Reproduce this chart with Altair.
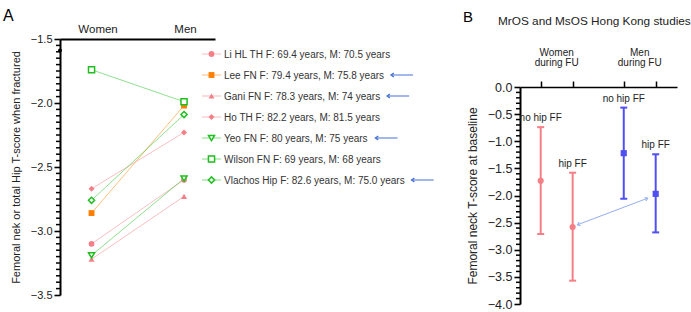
import math
import altair as alt
import numpy as np
import pandas as pd

# ---------------- data: panel A ----------------
studies = ["Li HL TH", "Lee FN", "Gani FN", "Ho TH", "Yeo FN", "Wilson FN", "Vlachos Hip"]
age_women = ["69.4", "79.4", "78.3", "82.2", "80", "69", "82.6"]
age_men = ["70.5", "75.8", "74", "81.5", "75", "68", "75.0"]
tscore_women = [-3.10, -2.86, -3.22, -2.67, -3.19, -1.74, -2.76]
tscore_men = [-2.60, -2.02, -2.73, -2.23, -2.59, -1.99, -2.09]
highlighted = ["Lee FN", "Gani FN", "Yeo FN", "Vlachos Hip"]
open_markers = ["Yeo FN", "Wilson FN", "Vlachos Hip"]
stray_point = [-1.59]
sexes_a = ["Women", "Men"]
title_a = "Femoral nek or total Hip T-score when fractured"

# ---------------- data: panel B ----------------
groups_b = ["no hip FF", "hip FF", "no hip FF", "hip FF"]
sex_b = ["Women", "Women", "Men", "Men"]
mean_b = [-1.73, -2.58, -1.22, -1.97]
low_b = [-2.71, -3.57, -2.06, -2.68]
high_b = [-0.74, -1.58, -0.38, -1.24]
headers_b = ["Women\nduring FU", "Men\nduring FU"]
title_b = "MrOS and MsOS Hong Kong studies"
ytitle_b = "Femoral neck T-score at baseline"
panel_letters = ["A", "B"]

# ---------------- styles / layout ----------------
FONT = "Liberation Sans"
INK = "#222222"
TICK = "black"
PINK = "#f47f86"
ORANGE = "#ff7f00"
GREEN = "#1fbf1f"
BLUE_B = "#5050f2"
ARROW = "#4a74d8"
LINK = "#93aef0"
series_colors = [PINK, ORANGE, PINK, PINK, GREEN, GREEN, GREEN]
series_shapes = ["circle", "square", "triangle-up", "diamond", "triangle-down", "square", "diamond"]
series_sizes = [34, 38, 42, 30, 42, 50, 32]

A_X_DOMAIN = [0.659, 2.335]
A_X_RANGE = [60, 215]
A_Y_DOMAIN = [-3.5, -1.5]
A_Y_RANGE = [295, 39]
B_X_DOMAIN = [0.352, 5.267]
B_X_RANGE = [520, 677]
B_Y_DOMAIN = [-4.0, 0.0]
B_Y_RANGE = [304, 87]
MINOR_LEN = 4

CHEVRON_UP = "M-0.7,1L0,0L0.7,1"
CHEVRON_LEFT = "M1,-0.7L0,0L1,0.7"


def tick_values(lo, hi, step):
    n = int(round((hi - lo) / step))
    return [round(lo + i * step, 2) + 0.0 for i in range(n + 1)]


def split_ticks(lo, hi, step):
    allv = tick_values(lo, hi, step)
    major = [v for v in allv if abs(v * 2 - round(v * 2)) < 1e-6]
    minor = [v for v in allv if v not in major]
    return major, minor


def major_axis(values, offset, title, label_size, title_size, pad):
    return alt.Axis(
        orient="left", offset=offset, values=values, format=".1f",
        labelOverlap=False, labelFlush=False, tickSize=6,
        tickWidth=1.6, tickColor=TICK, domainColor="black", domainWidth=2,
        labelFont=FONT, labelFontSize=label_size, labelColor=INK, labelPadding=2,
        title=title, titleFont=FONT, titleFontSize=title_size, titleFontWeight="normal",
        titleColor=INK, titlePadding=pad, grid=False,
    )


# ---------------- panel A ----------------
rows = []
for i, s in enumerate(studies):
    for j, v in enumerate([tscore_women[i], tscore_men[i]]):
        rows.append({"study": s, "sex": sexes_a[j], "slot": j + 1, "t": v,
                     "open": s in open_markers})
df_a = pd.DataFrame(rows)

a_major, a_minor = split_ticks(-3.5, -1.5, 0.05)
ya_scale = alt.Scale(domain=A_Y_DOMAIN, range=A_Y_RANGE, zero=False, nice=False)
xa = alt.X(
    "slot:Q",
    scale=alt.Scale(domain=A_X_DOMAIN, range=A_X_RANGE, zero=False, nice=False),
    axis=alt.Axis(
        orient="top", values=[1, 2],
        labelExpr=f"datum.value == 1 ? '{sexes_a[0]}' : '{sexes_a[1]}'",
        ticks=False, tickSize=0, labelPadding=5, offset=-39,
        domainWidth=2, domainColor="black", labelFont=FONT, labelFontSize=11.5,
        labelColor=INK, title=None, grid=False,
        labelOffset={"condition": {"test": "datum.value == 1", "value": 6}, "value": 1},
    ),
)
ya = alt.Y("t:Q", scale=ya_scale, axis=major_axis(a_major, -A_X_RANGE[0], title_a, 11, 11, 9))
color_a = alt.Color("study:N", scale=alt.Scale(domain=studies, range=series_colors), legend=None)
shape_a = alt.Shape("study:N", scale=alt.Scale(domain=studies, range=series_shapes), legend=None)
size_a = alt.Size("study:N", scale=alt.Scale(domain=studies, range=series_sizes), legend=None)

lines_a = alt.Chart(df_a).mark_line(strokeWidth=1, opacity=0.5).encode(x=xa, y=ya, color=color_a)
filled_a = alt.Chart(df_a).transform_filter("!datum.open").mark_point(
    filled=True, opacity=1).encode(x=xa, y=ya, color=color_a, shape=shape_a, size=size_a)
open_a = alt.Chart(df_a).transform_filter("datum.open").mark_point(
    filled=False, fill="white", strokeWidth=1.5, opacity=1).encode(
    x=xa, y=ya, color=color_a, shape=shape_a, size=size_a)
stray_a = alt.Chart(pd.DataFrame({"slot": [A_X_DOMAIN[0]], "t": stray_point})).mark_circle(
    size=16, color="black", opacity=1).encode(x=xa, y=ya)
minor_a = alt.Chart(pd.DataFrame({"t": a_minor})).mark_rule(strokeWidth=1.5, color=TICK).encode(
    x=alt.value(A_X_RANGE[0] - MINOR_LEN), x2=alt.value(A_X_RANGE[0]), y=ya)
panel_a = alt.layer(lines_a, filled_a, open_a, stray_a, minor_a)

# ---------------- legend of panel A ----------------
AW = {" ": 278, ",": 278, ".": 278, ":": 278, "F": 611, "N": 722, "M": 833, "L": 556,
      "e": 556, "y": 500, "a": 556, "r": 333, "s": 500, "G": 778, "n": 556, "i": 222,
      "Y": 667, "o": 556, "V": 667, "l": 222, "c": 500, "h": 556, "H": 722, "p": 556,
      "T": 611, "W": 944}


def text_width(s, size):
    return sum(AW.get(c, 556) for c in s) * size / 1000.0


LEG_FS = 10
LEG_TEXT_X = 224
labels = [f"{s} F: {f} years, M: {m} years" for s, f, m in zip(studies, age_women, age_men)]
df_l = pd.DataFrame({"study": studies, "label": labels, "open": [s in open_markers for s in studies]})
arr = []
for s, lab in zip(studies, labels):
    if s in highlighted:
        x0 = LEG_TEXT_X + text_width(lab, LEG_FS) + 7
        arr.append({"study": s, "ax": x0, "ax2": x0 + 22})
df_arr = pd.DataFrame(arr)

y_l = alt.Y("study:N", scale=alt.Scale(type="point", domain=studies, range=[54, 180], padding=0), axis=None)
px_scale = alt.Scale(domain=[0, 691], range=[0, 691], zero=False, nice=False)

stub_l = alt.Chart(df_l).mark_rule(strokeWidth=1, opacity=0.55).encode(
    x=alt.value(202), x2=alt.value(221), y=y_l, color=color_a)
filled_l = alt.Chart(df_l).transform_filter("!datum.open").mark_point(filled=True, opacity=1).encode(
    x=alt.value(211.5), y=y_l, color=color_a, shape=shape_a, size=size_a)
open_l = alt.Chart(df_l).transform_filter("datum.open").mark_point(
    filled=False, fill="white", strokeWidth=1.5, opacity=1).encode(
    x=alt.value(211.5), y=y_l, color=color_a, shape=shape_a, size=size_a)
text_l = alt.Chart(df_l).mark_text(align="left", baseline="middle", dy=1, font=FONT,
                                   fontSize=LEG_FS, color="#333333").encode(
    x=alt.value(LEG_TEXT_X), y=y_l, text="label:N")
arrow_l = alt.Chart(df_arr).mark_rule(strokeWidth=1.2, color=ARROW, opacity=0.85).encode(
    x=alt.X("ax:Q", scale=px_scale, axis=None), x2="ax2:Q", y=y_l)
head_l = alt.Chart(df_arr).mark_point(shape=CHEVRON_LEFT, filled=False, strokeWidth=1.4,
                                      size=30, color=ARROW, opacity=1).encode(
    x=alt.X("ax:Q", scale=px_scale, axis=None), y=y_l)
legend_a = alt.layer(stub_l, filled_l, open_l, text_l, arrow_l, head_l)

# ---------------- panel B ----------------
df_b = pd.DataFrame({"group": groups_b, "sex": sex_b, "mean": mean_b, "lo": low_b, "hi": high_b})
df_b["pos"] = [1 + i + 0.6 * (s == "Men") for i, s in enumerate(sex_b)]
df_h = df_b.groupby("sex", sort=False)["pos"].mean().reset_index()
df_h["header"] = headers_b

b_major, b_minor = split_ticks(-4.0, 0.0, 0.1)
xb_scale = alt.Scale(domain=B_X_DOMAIN, range=B_X_RANGE, zero=False, nice=False)
xb_axis = alt.Axis(orient="top", values=df_b["pos"].tolist(), labels=False, tickSize=6,
                   tickWidth=1.5, tickColor="black", domainWidth=1.6, domainColor="black",
                   offset=-B_Y_RANGE[1], title=None, grid=False)
yb_scale = alt.Scale(domain=B_Y_DOMAIN, range=B_Y_RANGE, zero=False, nice=False)
yb_axis = major_axis(b_major, -B_X_RANGE[0], ytitle_b, 12.5, 12, 8)


def xb(field):
    return alt.X(field, scale=xb_scale, axis=xb_axis)


def yb(field):
    return alt.Y(field, scale=yb_scale, axis=yb_axis)


color_b = alt.Color("sex:N", scale=alt.Scale(domain=["Women", "Men"], range=[PINK, BLUE_B]), legend=None)
shape_b = alt.Shape("sex:N", scale=alt.Scale(domain=["Women", "Men"], range=["circle", "square"]), legend=None)

bars_b = alt.Chart(df_b).mark_rule(strokeWidth=2).encode(x=xb("pos:Q"), y=yb("lo:Q"), y2="hi:Q", color=color_b)
caps_b = alt.Chart(df_b).transform_fold(["lo", "hi"], as_=["end", "v"]).mark_tick(
    orient="horizontal", size=7, thickness=2, opacity=1).encode(x=xb("pos:Q"), y=yb("v:Q"), color=color_b)
pts_b = alt.Chart(df_b).mark_point(filled=True, size=38, opacity=1).encode(
    x=xb("pos:Q"), y=yb("mean:Q"), color=color_b, shape=shape_b)
lab_b = alt.Chart(df_b).mark_text(font=FONT, fontSize=10, color=INK, baseline="middle", dy=-9).encode(
    x=xb("pos:Q"), y=yb("hi:Q"), text="group:N")
head_b = alt.Chart(df_h).mark_text(font=FONT, fontSize=10, color=INK, baseline="top", lineBreak="\n",
                                   lineHeight=10).encode(
    x=xb("pos:Q"), y=alt.value(48), text="header:N")

x1 = df_b["pos"][1] + 0.15
y1 = mean_b[1] + 0.04
x2 = df_b["pos"][3] - 0.25
y2 = mean_b[3] - 0.08


def bpx(v):
    return B_X_RANGE[0] + (v - B_X_DOMAIN[0]) / (B_X_DOMAIN[1] - B_X_DOMAIN[0]) * (B_X_RANGE[1] - B_X_RANGE[0])


def bpy(v):
    return B_Y_RANGE[0] + (v - B_Y_DOMAIN[0]) / (B_Y_DOMAIN[1] - B_Y_DOMAIN[0]) * (B_Y_RANGE[1] - B_Y_RANGE[0])


ddx = bpx(x1) - bpx(x2)
ddy = bpy(y1) - bpy(y2)
ang_left = math.degrees(math.atan2(ddx, -ddy)) % 360
ang_right = (ang_left + 180) % 360
df_link = pd.DataFrame({"x1": [x1], "y1": [y1], "x2": [x2], "y2": [y2]})
df_heads = pd.DataFrame({"px": [x1, x2], "py": [y1, y2], "ang": [ang_left, ang_right]})
link_b = alt.Chart(df_link).mark_rule(strokeWidth=1, color=LINK).encode(
    x=xb("x1:Q"), y=yb("y1:Q"), x2="x2:Q", y2="y2:Q")
heads_b = alt.Chart(df_heads).mark_point(shape=CHEVRON_UP, filled=False, strokeWidth=1.1,
                                         size=28, color=LINK, opacity=1).encode(
    x=xb("px:Q"), y=yb("py:Q"), angle=alt.Angle("ang:Q", scale=None))
minor_b = alt.Chart(pd.DataFrame({"v": b_minor})).mark_rule(strokeWidth=1.5, color=TICK).encode(
    x=alt.value(B_X_RANGE[0] - MINOR_LEN), x2=alt.value(B_X_RANGE[0]), y=yb("v:Q"))
panel_b = alt.layer(bars_b, caps_b, pts_b, lab_b, head_b, link_b, heads_b, minor_b)

letter_a = alt.Chart(pd.DataFrame({"t": [panel_letters[0]]})).mark_text(
    font=FONT, fontSize=16, color="black", align="left", baseline="alphabetic").encode(
    x=alt.value(3), y=alt.value(21), text="t:N")
letter_b = alt.Chart(pd.DataFrame({"t": [panel_letters[1]]})).mark_text(
    font=FONT, fontSize=15, color="black", align="left", baseline="alphabetic").encode(
    x=alt.value(463), y=alt.value(22), text="t:N")
title_b_mark = alt.Chart(pd.DataFrame({"t": [title_b]})).mark_text(
    font=FONT, fontSize=11.8, color=INK, align="left", baseline="middle").encode(
    x=alt.value(498), y=alt.value(21), text="t:N")
notes = alt.layer(letter_a, letter_b, title_b_mark)

chart = alt.layer(panel_a, legend_a, panel_b, notes).resolve_scale(
    x="independent", y="independent", color="independent", shape="independent",
    size="independent", angle="independent",
).properties(
    width=691, height=312, padding=0, background="white",
    autosize=alt.AutoSizeParams(type="none"),
).configure_view(stroke=None)

chart.save("out.html", embed_options={"renderer": "svg", "actions": False})
